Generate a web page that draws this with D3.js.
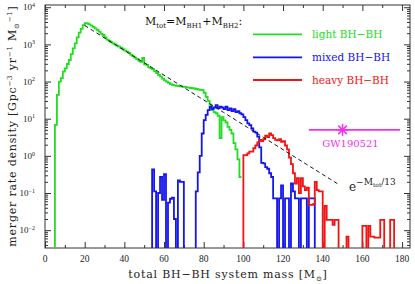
<!DOCTYPE html>
<html><head><meta charset="utf-8">
<script src="https://cdn.jsdelivr.net/npm/d3@7"></script>
<style>body{margin:0;background:#fff}svg{display:block}</style>
</head><body><svg id="c" width="415" height="284"></svg>
<script>
// ---- data ----
const lightStart = 4; // left edge of first 1-Msun bin
const lightValues = [0,6.8,44,99,123,184,227,297,380,550,785,1070,1550,2070,2600,3300,3700,3650,3450,3200,
  2950,2700,2450,2200,1950,1790,1550,1350,1250,1150,1070,1000,930,870,800,740,680,640,590,520,
  474,440,400,360,340,430,290,280,240,227,215,190,170,150,135,120,108,99,92,85,
  81,79,77,75,74,73,72,70,69,67,66,65,63,61,60,59,50,39,30,24,
  17,15,14,12,3,11,9,8,6,5,4,2.2,1.5,0.8,0.27];
const mixedStart = 53;
const mixedValues = [0,0.43,0.11,0,0.1,0.27,0.065,0.32,0,0.055,0.07,0.075,0.02,0,0.22,0.2,0.2,0,0,0,
  0,0,0,0.11,0.36,1.0,4,9.2,12.6,17,21,18,20,23,19,21,20,18,21,17,
  19,16,18,15,16,14,13,11,9.2,7.5,6.7,5.5,4.5,4.2,3.3,1.7,0.65,0.63,0.5,0.45,
  0.34,0.27,0.072,0.072,0,0.072,0.16,0,0.072,0.072,0,0.18,0.11,0.072,0.072,0,0.072,0.072,0.072,0,
  0.072,0.072,0.072,0];
const heavyStart = 99;
const heavyValues = [0,1.05,1.05,1.17,1.3,1.3,1.6,1.9,2.3,2.7,2.5,2.8,3.5,3.2,4.0,3.6,3.0,2.7,2.6,2.8,
  2.4,2.5,1.9,1.5,0.9,0.6,0.34,0.18,0.25,0.1,0.25,0.15,0.12,0.14,0.048,0.048,0.05,0.2,0.12,0.11,
  0.11,0,0.045,0.019,0.019,0.019,0.014,0.019,0.019,0,0,0,0,0.0067,0,0,0,0,0,0,
  0,0.013,0.013,0,0.013,0.0067,0.0067,0.0063,0.0063,0.0063,0.019,0.019,0,0,0,0.019,0.019,0];
const xTicks = [0,20,40,60,80,100,120,140,160,180];
const yTickExps = [-2,-1,0,1,2,3,4];
const gwMass = 150, gwLow = 133, gwHigh = 179, gwRate = 5;
const fitNorm = 1.5e4, fitScale = 13, fitFrom = 20, fitTo = 148;

// ---- layout ----
const L = 45, R = 410, T = 5, B = 248;
const FONT = "'DejaVu Serif', serif";
const TFONT = "'Liberation Serif', 'Times New Roman', serif";
const cGreen = "#22dd22", cBlue = "#1414ee", cRed = "#f01414", cMag = "#f030f0";

const svg = d3.select("#c");
const x = d3.scaleLinear().domain([0, 184]).range([L, R]);
const y = d3.scaleLog().domain([Math.pow(10, -2.48), Math.pow(10, 4.06)]).range([B, T]);

svg.append("defs").append("clipPath").attr("id", "clip")
  .append("rect").attr("x", L).attr("y", T).attr("width", R - L).attr("height", B - T);

// ticks
function tickAxis(axisFn, scale, vals, size, tr) {
  const g = svg.append("g").attr("transform", tr)
    .call(axisFn(scale).tickValues(vals).tickSize(size).tickFormat(""));
  g.select(".domain").remove();
  g.selectAll("line").attr("stroke", "#333").attr("stroke-width", 1);
}
const xMinor = d3.range(0, 185, 10).filter(v => v % 20 !== 0);
tickAxis(d3.axisBottom, x, xTicks, -6, `translate(0,${B})`);
tickAxis(d3.axisBottom, x, xMinor, -3, `translate(0,${B})`);
tickAxis(d3.axisTop, x, xTicks, -6, `translate(0,${T})`);
tickAxis(d3.axisTop, x, xMinor, -3, `translate(0,${T})`);
const yMajor = yTickExps.map(e => Math.pow(10, e));
const yMinor = [];
for (let e = -3; e <= 4; e++) for (let k = 2; k <= 9; k++) {
  const v = k * Math.pow(10, e);
  if (v > y.domain()[0] && v < y.domain()[1]) yMinor.push(v);
}
tickAxis(d3.axisLeft, y, yMajor, -6, `translate(${L},0)`);
tickAxis(d3.axisLeft, y, yMinor, -3, `translate(${L},0)`);
tickAxis(d3.axisRight, y, yMajor, -6, `translate(${R},0)`);
tickAxis(d3.axisRight, y, yMinor, -3, `translate(${R},0)`);

// frame
svg.append("rect").attr("x", L).attr("y", T).attr("width", R - L).attr("height", B - T)
  .attr("fill", "none").attr("stroke", "#333").attr("stroke-width", 1);

// tick labels
svg.append("g").selectAll("text").data(xTicks).join("text")
  .attr("x", d => x(d)).attr("y", B + 14).attr("text-anchor", "middle")
  .attr("font-family", TFONT).attr("font-size", 9.5).attr("fill", "#222").text(d => d);
const yl = svg.append("g").selectAll("text").data(yTickExps).join("text")
  .attr("x", 35).attr("y", d => y(Math.pow(10, d)) + 3.2).attr("text-anchor", "end")
  .attr("font-family", TFONT).attr("font-size", 9).attr("fill", "#222");
yl.append("tspan").text("10");
yl.append("tspan").attr("font-size", 6).attr("dy", -3.5).text(d => d < 0 ? "\u2212" + (-d) : d);

// axis titles
const xt = svg.append("text").attr("x", 228).attr("y", 278).attr("text-anchor", "middle")
  .attr("font-family", FONT).attr("font-size", 11).attr("letter-spacing", 0.8).attr("fill", "#222");
xt.append("tspan").text("total BH\u2212BH system mass [M");
xt.append("tspan").attr("font-size", 7).attr("dy", 2.5).text("\u2299");
xt.append("tspan").attr("dy", -2.5).text("]");

const ytl = svg.append("text").attr("transform", "translate(16,126) rotate(-90)").attr("text-anchor", "middle")
  .attr("font-family", FONT).attr("font-size", 11).attr("letter-spacing", 0.8).attr("fill", "#222");
ytl.append("tspan").text("merger rate density [Gpc");
ytl.append("tspan").attr("font-size", 7).attr("dy", -4).text("\u22123");
ytl.append("tspan").attr("dy", 4).text(" yr");
ytl.append("tspan").attr("font-size", 7).attr("dy", -4).text("\u22121");
ytl.append("tspan").attr("dy", 4).text(" M");
ytl.append("tspan").attr("font-size", 7).attr("dy", 2.5).text("\u2299");
ytl.append("tspan").attr("font-size", 7).attr("dy", -6.5).text("\u22121");
ytl.append("tspan").attr("dy", 4).text("]");

// histograms
function stepPoints(start, vals) {
  const pts = [];
  vals.forEach((v, i) => { pts.push([start + i, v]); pts.push([start + i + 1, v]); });
  return pts;
}
const stepLine = d3.line().x(d => x(d[0])).y(d => d[1] > 0 ? y(d[1]) : B + 3);
const plot = svg.append("g").attr("clip-path", "url(#clip)");
[[lightStart, lightValues, cGreen], [mixedStart, mixedValues, cBlue], [heavyStart, heavyValues, cRed]]
  .forEach(([s, v, c]) => {
    plot.append("path").attr("d", stepLine(stepPoints(s, v))).attr("fill", "none")
      .attr("stroke", c).attr("stroke-width", 1.8).attr("stroke-linejoin", "miter");
  });

// exponential fit
const fitM = d3.range(fitFrom, fitTo + 0.01, 2);
plot.append("path").attr("d", d3.line().x(d => x(d)).y(d => y(fitNorm * Math.exp(-d / fitScale)))(fitM))
  .attr("fill", "none").attr("stroke", "#111").attr("stroke-width", 1).attr("stroke-dasharray", "4,3");
const fl = svg.append("text").attr("x", 349).attr("y", 191).attr("font-family", FONT).attr("fill", "#222");
fl.append("tspan").attr("font-size", 12).text("e");
fl.append("tspan").attr("font-size", 9).attr("dy", -6).text("\u2212M");
fl.append("tspan").attr("font-size", 6).attr("dy", 2).text("tot");
fl.append("tspan").attr("font-size", 9).attr("dy", -2).text("/13");

// GW190521
svg.append("line").attr("x1", x(gwLow)).attr("x2", x(gwHigh)).attr("y1", y(gwRate)).attr("y2", y(gwRate))
  .attr("stroke", cMag).attr("stroke-width", 1.8);
const sx = x(gwMass), sy = y(gwRate), sr = 6;
[0, 45, 90, 135].forEach(a => {
  const r = a * Math.PI / 180;
  svg.append("line").attr("x1", sx - sr * Math.cos(r)).attr("x2", sx + sr * Math.cos(r))
    .attr("y1", sy - sr * Math.sin(r)).attr("y2", sy + sr * Math.sin(r))
    .attr("stroke", cMag).attr("stroke-width", 1.5);
});
svg.append("text").attr("x", 350.5).attr("y", 147).attr("text-anchor", "middle")
  .attr("font-family", FONT).attr("font-size", 10).attr("fill", cMag).text("GW190521");

// legend
const lt = svg.append("text").attr("x", 145).attr("y", 25).attr("font-family", FONT).attr("font-size", 11).attr("fill", "#111");
lt.append("tspan").text("M");
lt.append("tspan").attr("font-size", 7).attr("dy", 2.5).text("tot");
lt.append("tspan").attr("dy", -2.5).text("=M");
lt.append("tspan").attr("font-size", 7).attr("dy", 2.5).text("BH1");
lt.append("tspan").attr("dy", -2.5).text("+M");
lt.append("tspan").attr("font-size", 7).attr("dy", 2.5).text("BH2");
lt.append("tspan").attr("dy", -2.5).text(":");
const legend = [["light BH\u2212BH", cGreen, 34.3], ["mixed BH\u2212BH", cBlue, 57.3], ["heavy BH\u2212BH", cRed, 80]];
legend.forEach(([t, c, ly]) => {
  svg.append("line").attr("x1", 253).attr("x2", 302).attr("y1", ly).attr("y2", ly).attr("stroke", c).attr("stroke-width", 1.8);
  svg.append("text").attr("x", 312).attr("y", ly + 3.8).attr("font-family", FONT).attr("font-size", 10.5)
    .attr("fill", c).text(t);
});
</script></body></html>
